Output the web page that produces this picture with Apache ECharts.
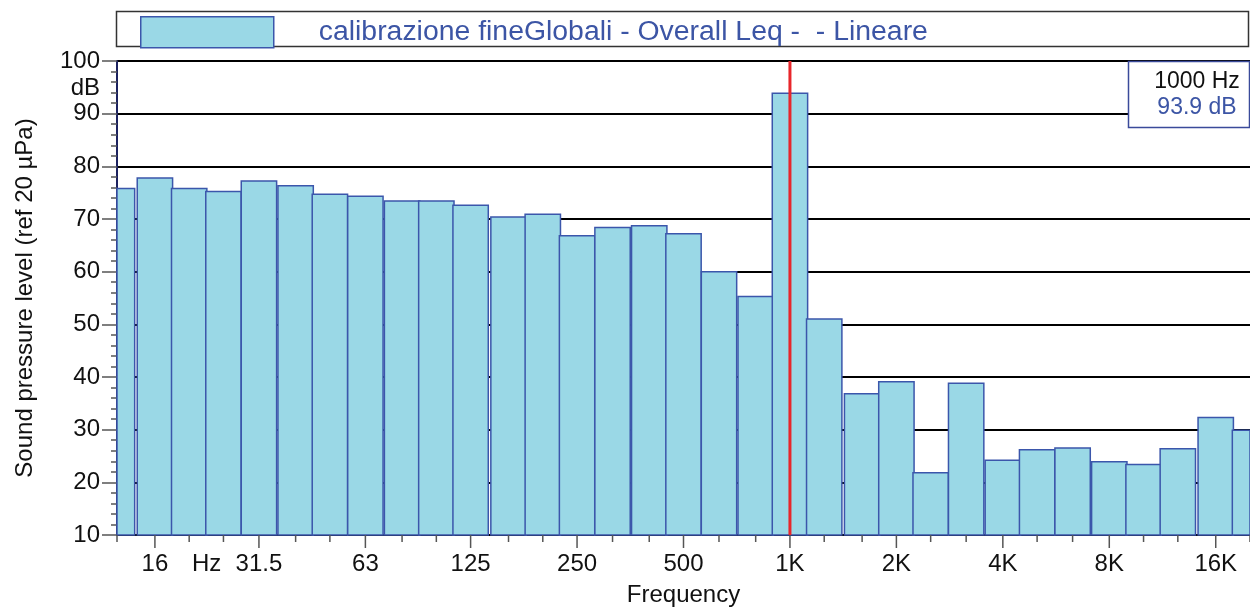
<!DOCTYPE html>
<html>
<head>
<meta charset="utf-8">
<title>calibrazione fineGlobali - Overall Leq</title>
<script src="https://cdn.jsdelivr.net/npm/echarts@6/dist/echarts.min.js"></script>
<style>
  html, body { margin: 0; padding: 0; background: #ffffff; }
  #chart { width: 1250px; height: 607px; }
</style>
</head>
<body>
<div id="chart"></div>
<script>
// 1/3-octave band centres (Hz) and measured levels (dB, linear weighting)
const bandCentres = [12.5, 16, 20, 25, 31.5, 40, 50, 63, 80, 100, 125, 160, 200, 250, 315, 400, 500,
  630, 800, 1000, 1250, 1600, 2000, 2500, 3150, 4000, 5000, 6300, 8000, 10000, 12500, 16000, 20000];
const bandLevels = [75.8, 77.8, 75.8, 75.2, 77.2, 76.3, 74.7, 74.3, 73.4, 73.4, 72.6, 70.4, 70.9, 66.8, 68.4, 68.7, 67.2,
  60.0, 55.3, 93.9, 51.0, 36.8, 39.1, 21.8, 38.8, 24.2, 26.2, 26.5, 23.9, 23.4, 26.4, 32.3, 29.9];

// Labelled octave ticks on the frequency axis
const octaveFreqs = [16, 31.5, 63, 125, 250, 500, 1000, 2000, 4000, 8000, 16000];
const octaveLabels = ['16', '31.5', '63', '125', '250', '500', '1K', '2K', '4K', '8K', '16K'];
const unitLabelFreq = 22.4;   // "Hz" sits between the 20 and 25 Hz ticks
const unitLabel = 'Hz';

// Cursor placed on the 1 kHz band
const cursorFreq = 1000;

const seriesName = 'calibrazione fineGlobali - Overall Leq -  - Lineare';
const FONT = '"Liberation Sans", Arial, Helvetica, sans-serif';
const BAR_FILL = '#9ad8e6';
const BAR_EDGE = '#3b56ab';
const HALF_BAND = Math.pow(10, 0.05);

const chart = echarts.init(document.getElementById('chart'), null, { renderer: 'canvas' });

const cursorLevel = bandLevels[bandCentres.indexOf(cursorFreq)];

const tickData = bandCentres.map(f => [f, 10]);

const option = {
  animation: false,
  backgroundColor: '#ffffff',
  textStyle: { fontFamily: FONT },
  grid: { left: 117, right: 0, top: 61, bottom: 72, containLabel: false, outerBoundsMode: 'none' },
  legend: {
    left: 140, top: 16,
    padding: 0,
    itemWidth: 133, itemHeight: 31,
    icon: 'rect',
    data: [seriesName],
    selectedMode: false,
    itemStyle: { color: BAR_FILL, borderColor: BAR_EDGE, borderWidth: 1.5 },
    textStyle: { fontFamily: FONT, fontSize: 28.4, color: '#3c55a5', padding: [0, 0, 6, 40] }
  },
  xAxis: {
    type: 'log', logBase: 10, min: 12.5, max: 20000,
    name: 'Frequency', nameLocation: 'middle', nameGap: 48,
    nameTextStyle: { fontFamily: FONT, fontSize: 24, color: '#111' },
    axisLine: { show: true, onZero: false, lineStyle: { color: '#000', width: 2 } },
    axisTick: { show: false }, axisLabel: { show: false },
    splitLine: { show: false }, minorTick: { show: false }
  },
  yAxis: {
    type: 'value', min: 10, max: 100, interval: 10,
    name: 'Sound pressure level (ref 20 µPa)', nameLocation: 'middle', nameGap: 80,
    nameTextStyle: { fontFamily: FONT, fontSize: 24, color: '#111' },
    axisLine: { show: true, lineStyle: { color: '#1c2260', width: 2 } },
    axisTick: { show: true, length: 15, lineStyle: { color: '#555', width: 1.5 } },
    minorTick: { show: true, splitNumber: 5, length: 6, lineStyle: { color: '#555', width: 1.5 } },
    axisLabel: { fontFamily: FONT, fontSize: 24, color: '#111', margin: 17 },
    splitLine: { show: true, lineStyle: { color: '#000', width: 2 } }
  },
  series: [
    {
      // spectrum bars, each spanning its 1/3-octave band
      name: seriesName,
      type: 'custom',
      coordinateSystem: 'cartesian2d',
      itemStyle: { color: BAR_FILL, borderColor: BAR_EDGE, borderWidth: 1.5 },
      data: bandCentres.map((f, i) => [f, bandLevels[i]]),
      z: 3,
      renderItem: function (params, api) {
        const f = api.value(0), v = api.value(1);
        const topLeft = api.coord([f / HALF_BAND, v]);
        const botRight = api.coord([f * HALF_BAND, 10]);
        const cs = params.coordSys;
        const x0 = Math.max(topLeft[0], cs.x);
        const x1 = Math.min(botRight[0], cs.x + cs.width);
        return {
          type: 'rect',
          shape: { x: x0, y: topLeft[1], width: x1 - x0, height: botRight[1] - topLeft[1] },
          style: { fill: BAR_FILL, stroke: BAR_EDGE, lineWidth: 1.5 }
        };
      }
    },
    {
      // frequency-axis ticks and labels
      type: 'custom',
      coordinateSystem: 'cartesian2d',
      silent: true,
      data: tickData.concat([[unitLabelFreq, 10]]),
      z: 4,
      renderItem: function (params, api) {
        const f = api.value(0);
        const p = api.coord([f, 10]);
        const children = [];
        if (params.dataIndex === tickData.length) {
          children.push({
            type: 'text',
            style: { x: p[0], y: p[1] + 29, text: unitLabel, fill: '#111', font: '24px ' + FONT, align: 'center', verticalAlign: 'middle' }
          });
          return { type: 'group', children };
        }
        const k = octaveFreqs.indexOf(f);
        const len = k >= 0 ? 13 : 7;
        children.push({
          type: 'line',
          shape: { x1: p[0], y1: p[1], x2: p[0], y2: p[1] + len },
          style: { stroke: '#555', lineWidth: 1.5 }
        });
        if (k >= 0) {
          children.push({
            type: 'text',
            style: { x: p[0], y: p[1] + 29, text: octaveLabels[k], fill: '#111', font: '24px ' + FONT, align: 'center', verticalAlign: 'middle' }
          });
        }
        return { type: 'group', children };
      }
    },
    {
      // dB unit label beside the level axis
      type: 'custom',
      coordinateSystem: 'cartesian2d',
      silent: true,
      data: [[12.5, 95]],
      renderItem: function (params, api) {
        const p = api.coord([api.value(0), api.value(1)]);
        return {
          type: 'text',
          style: { x: p[0] - 17, y: p[1] + 1, text: 'dB', fill: '#111', font: '24px ' + FONT, align: 'right', verticalAlign: 'middle' }
        };
      }
    },
    {
      // cursor line
      type: 'custom',
      coordinateSystem: 'cartesian2d',
      silent: true,
      data: [[cursorFreq, cursorLevel]],
      z: 5,
      renderItem: function (params, api) {
        const cs = params.coordSys;
        const x = api.coord([api.value(0), 10])[0];
        return {
          type: 'line',
          shape: { x1: x, y1: cs.y, x2: x, y2: cs.y + cs.height },
          style: { stroke: '#e8262b', lineWidth: 3 }
        };
      }
    }
  ],
  graphic: [
    {
      // frame around the legend
      type: 'rect', z: 1,
      shape: { x: 116.5, y: 11.5, width: 1132, height: 35 },
      style: { fill: 'none', stroke: '#333', lineWidth: 1.5 }
    },
    // cursor readout
    { type: 'rect', z: 100, shape: { x: 1128.5, y: 61.5, width: 121, height: 66 },
      style: { fill: '#ffffff', stroke: '#3a4a9a', lineWidth: 1.5 } },
    { type: 'text', z: 101, style: { x: 1197, y: 82, text: cursorFreq + ' Hz', fill: '#111', font: '23px ' + FONT, align: 'center', verticalAlign: 'middle' } },
    { type: 'text', z: 101, style: { x: 1197, y: 108, text: cursorLevel.toFixed(1) + ' dB', fill: '#3c55a5', font: '23px ' + FONT, align: 'center', verticalAlign: 'middle' } }
  ]
};

chart.setOption(option);
</script>
</body>
</html>
